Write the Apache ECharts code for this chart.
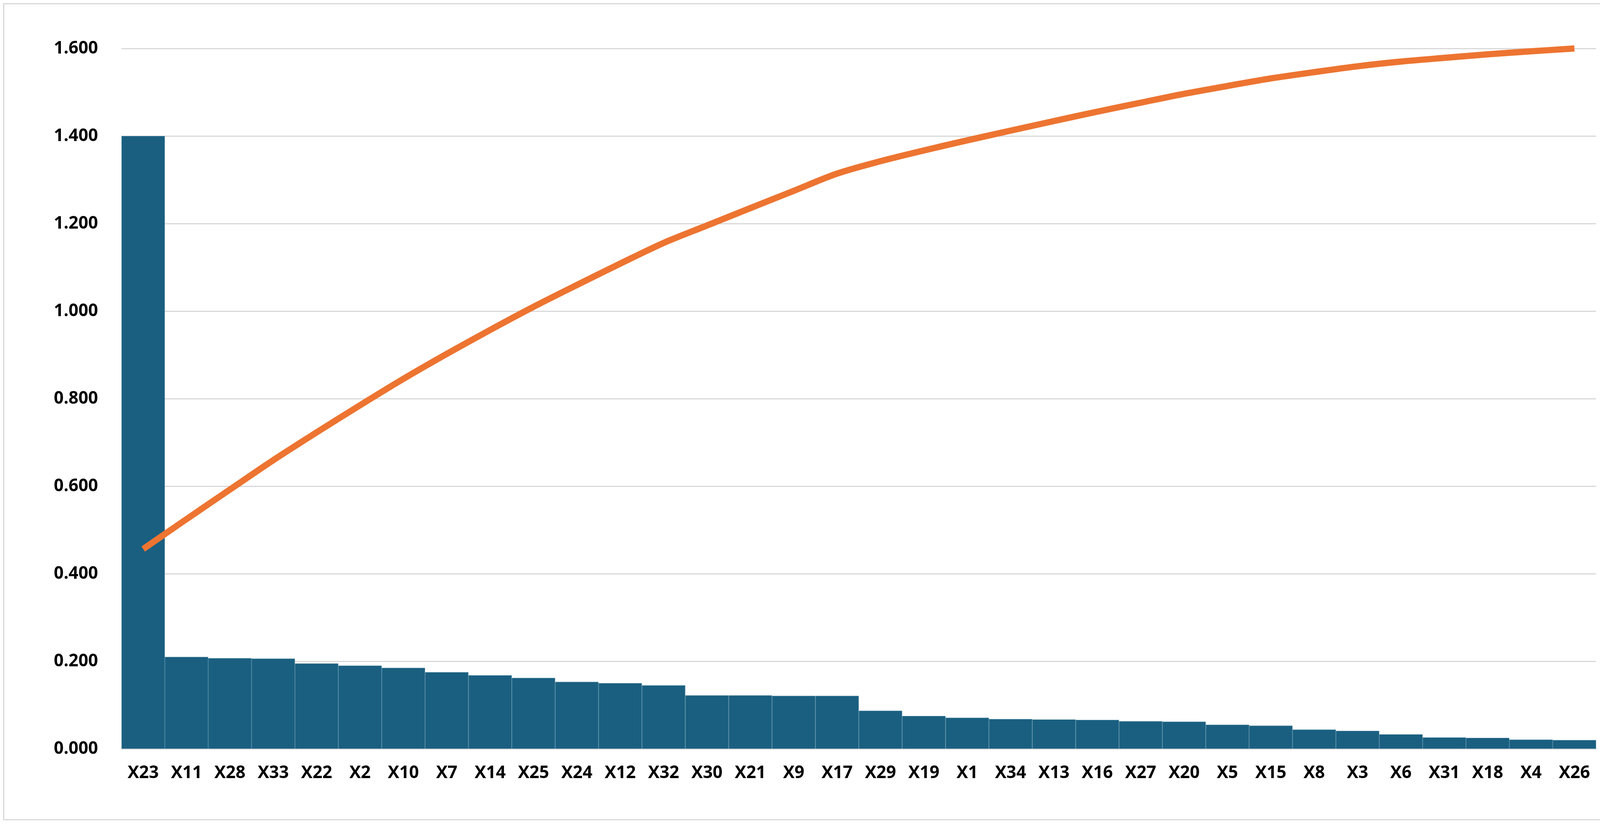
<!DOCTYPE html>
<html><head><meta charset="utf-8">
<script src="https://cdn.jsdelivr.net/npm/echarts@6/dist/echarts.min.js"></script>
<style>html,body{margin:0;background:#fff}#main{position:absolute;left:8px;top:8px;width:4396px;height:2091px;border:3px solid #d9d9d9;box-sizing:border-box}</style>
</head><body><div id="main"></div>
<script>
var categories = ['X23','X11','X28','X33','X22','X2','X10','X7','X14','X25','X24','X12','X32','X30','X21','X9','X17','X29','X19','X1','X34','X13','X16','X27','X20','X5','X15','X8','X3','X6','X31','X18','X4','X26'];
var values = [1.400,0.210,0.207,0.206,0.195,0.190,0.185,0.175,0.168,0.162,0.153,0.150,0.145,0.122,0.122,0.121,0.121,0.087,0.075,0.071,0.068,0.067,0.066,0.063,0.062,0.055,0.053,0.044,0.041,0.033,0.026,0.025,0.021,0.020];

var total = values.reduce((a, b) => a + b, 0);
var run = 0;
var cumulative = values.map(v => { run += v; return run / total * 100; });

var myChart = echarts.init(document.getElementById('main'));
function font() { return { fontFamily: 'Open Sans', fontWeight: 'bold', fontSize: 44, color: '#000' }; }
var option = {
    animation: false,
    grid: { left: 300, right: 315, top: 113, bottom: 180, containLabel: false, outerBoundsMode: 'none' },
    xAxis: {
        type: 'category', data: categories,
        axisTick: { show: false },
        axisLine: { lineStyle: { color: '#d9d9d9', width: 3 } },
        axisLabel: Object.assign({ margin: 40, interval: 0 }, font())
    },
    yAxis: [
        {
            type: 'value', position: 'left', min: 0, max: 1.6, interval: 0.2,
            axisLabel: Object.assign({ show: true, margin: 60, formatter: v => v.toFixed(3) }, font()),
            splitLine: { lineStyle: { color: '#d9d9d9', width: 3 } }
        },
        {
            type: 'value', position: 'right', min: 0, max: 100, interval: 10,
            axisLine: { show: false }, axisTick: { show: false },
            axisLabel: Object.assign({ show: true, margin: 50, formatter: '{value}%' }, font()),
            splitLine: { show: false }
        }
    ],
    series: [
        {
            type: 'bar', data: values, barCategoryGap: 0,
            itemStyle: { color: '#1a5f80', borderColor: '#4d86a0', borderWidth: 1 }
        },
        {
            type: 'line', yAxisIndex: 1, data: cumulative, smooth: 0.3,
            symbol: 'none', lineStyle: { color: '#ed7431', width: 16 }
        }
    ]
};
option && myChart.setOption(option);
</script></body></html>
